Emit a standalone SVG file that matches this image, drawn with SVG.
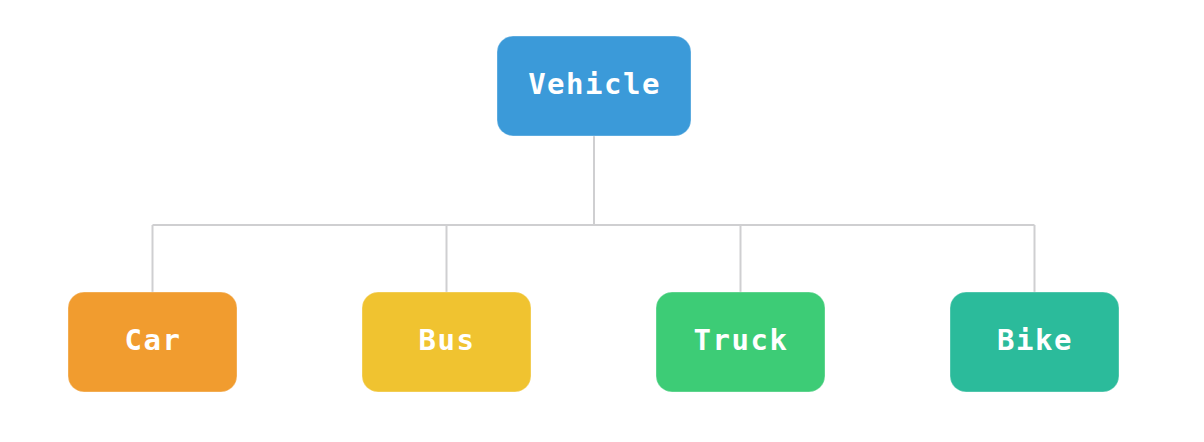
<svg xmlns="http://www.w3.org/2000/svg" width="1204" height="442" viewBox="0 0 1204 442">
<style>
.box{stroke:#ffffff;stroke-opacity:0.35;stroke-width:1}
.lbl{font-family:"DejaVu Sans Mono","Liberation Mono",monospace;font-weight:bold;font-size:29px;letter-spacing:1.5px;fill:#ffffff;text-anchor:middle;dominant-baseline:central}
.conn{stroke:#cfcfd1;stroke-width:2;fill:none}
</style>
<rect width="1204" height="442" fill="#ffffff"/>
<g id="connectors">
<path class="conn" d="M594 136 V225"/>
<path class="conn" d="M152.5 225 H1034.5"/>
<path class="conn" d="M152.5 225 V292"/>
<path class="conn" d="M446.5 225 V292"/>
<path class="conn" d="M740.5 225 V292"/>
<path class="conn" d="M1034.5 225 V292"/>
</g>
<g id="vehicle">
<rect class="box" x="497" y="36" width="194" height="100" rx="16" fill="#3b9ad9"/>
<text class="lbl" x="594.5" y="84">Vehicle</text>
</g>
<g id="car">
<rect class="box" x="68" y="292" width="169" height="100" rx="16" fill="#f19c2f"/>
<text class="lbl" x="153" y="340">Car</text>
</g>
<g id="bus">
<rect class="box" x="362" y="292" width="169" height="100" rx="16" fill="#f0c330"/>
<text class="lbl" x="447" y="340">Bus</text>
</g>
<g id="truck">
<rect class="box" x="656" y="292" width="169" height="100" rx="16" fill="#3dcc76"/>
<text class="lbl" x="741" y="340">Truck</text>
</g>
<g id="bike">
<rect class="box" x="950" y="292" width="169" height="100" rx="16" fill="#2bbb9b"/>
<text class="lbl" x="1035" y="340">Bike</text>
</g>
</svg>
